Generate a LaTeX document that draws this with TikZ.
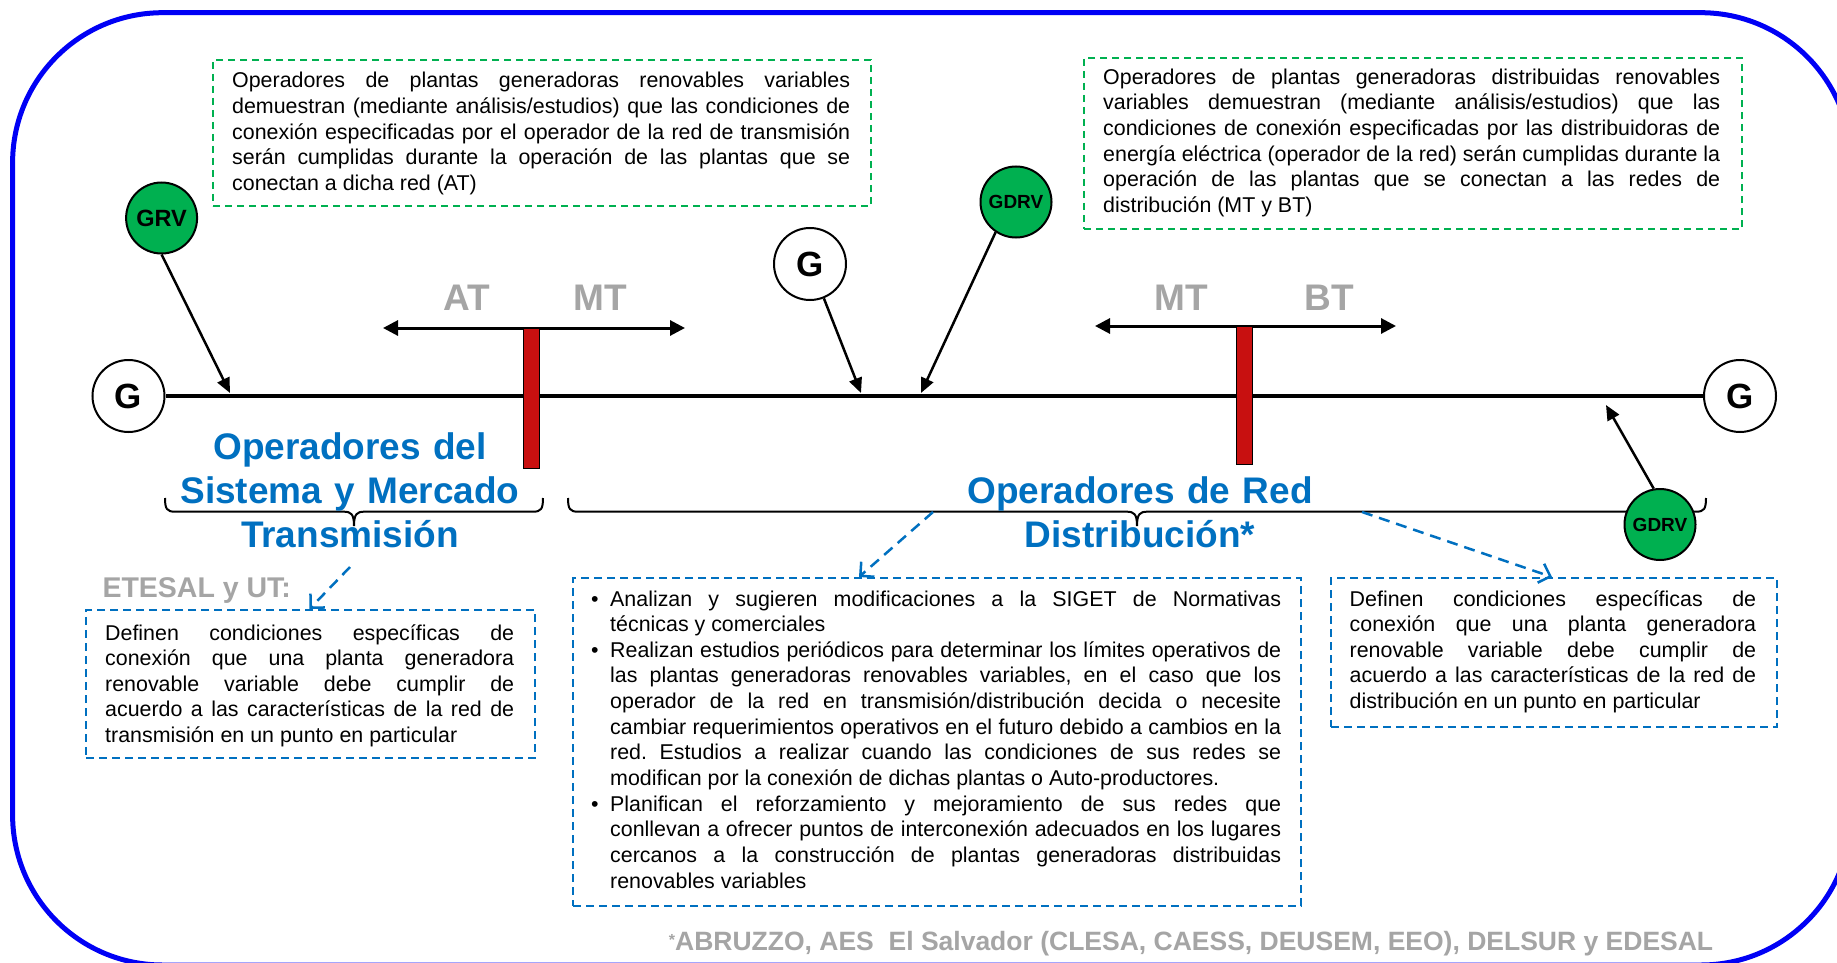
\documentclass[tikz,border=0pt]{standalone}
\usepackage{fontspec}
\setmainfont{Liberation Sans}
\usetikzlibrary{arrows.meta}
\definecolor{offblue}{RGB}{0,112,192}
\definecolor{offgreen}{RGB}{0,176,80}
\definecolor{offgray}{RGB}{165,165,165}
\definecolor{barred}{RGB}{200,16,16}
\definecolor{frameblue}{RGB}{0,0,245}
\newcommand\bodyfont{\fontsize{21.4}{25.66}\selectfont\frenchspacing}
\newlength\bind \setlength\bind{19pt}
\newcommand\para[2]{\vtop{\hsize=#1\relax #2}}
\newcommand\JL[1]{\hbox to\hsize{#1}}
\newcommand\LL[1]{\hbox{#1}}
\newcommand\BL[1]{\hbox to\hsize{\hbox to\bind{•\hss}\hbox to\dimexpr\hsize-\bind\relax{#1}}}
\newcommand\CL[1]{\hbox to\hsize{\hskip\bind\hbox to\dimexpr\hsize-\bind\relax{#1}}}
\newcommand\CE[1]{\hbox{\hskip\bind #1}}
\begin{document}
\begin{tikzpicture}[x=1pt,y=-1pt,
  circ/.style={circle,draw,line width=2pt,inner sep=0pt,minimum size=72pt},
  gnode/.style={circ,fill=white,font=\fontsize{35}{35}\selectfont\bfseries},
  grnode/.style={circ,fill=offgreen,minimum size=71pt},
  dboxg/.style={draw=offgreen,line width=2pt,dash pattern=on 7pt off 5pt,inner sep=0pt,anchor=north west},
  dboxb/.style={draw=offblue,line width=2pt,dash pattern=on 8pt off 5pt,inner sep=0pt,anchor=north west},
  txt/.style={inner sep=0pt,anchor=base west,font=\bodyfont},
  volt/.style={font=\fontsize{37}{37}\selectfont\bfseries,text=offgray,inner sep=0pt,anchor=base},
  ttl/.style={font=\fontsize{37}{44.2}\selectfont\bfseries,text=offblue,align=center,text width=440pt,inner sep=0pt,anchor=base},
  feed/.style={line width=2.5pt,-{Triangle[length=15pt,width=13pt]}},
  twoway/.style={line width=3pt,{Triangle[length=15pt,width=15pt]}-{Triangle[length=15pt,width=15pt]}},
  bus/.style={line width=4.5pt},
  redbar/.style={draw=black,line width=1.2pt,fill=barred,inner sep=0pt,minimum width=16pt,anchor=north},
  brc/.style={line width=2pt},
  hint/.style={draw=offblue,line width=2.5pt,dash pattern=on 11pt off 7pt,-{Straight Barb[length=10pt,width=20pt]}},
]
\useasboundingbox (0,0) rectangle (1837,963);
\fill[white] (0,0) rectangle (1837,963);
\begin{scope}
\clip (0,0) rectangle (1837,963);
\draw[frameblue,line width=5pt,rounded corners=150pt] (12.6,12.7) rectangle (1851,965);
\end{scope}

% dashed boxes
\node[dboxg,minimum width=658pt,minimum height=146pt] (tl) at (212,59) {};
\node[dboxg,minimum width=658pt,minimum height=171pt] (tr) at (1083,57) {};
\node[dboxb,minimum width=449pt,minimum height=148pt] (bl) at (85,609) {};
\node[dboxb,minimum width=728pt,minimum height=328pt] (bm) at (572,577) {};
\node[dboxb,minimum width=446pt,minimum height=149pt] (br) at (1330,577) {};

% box texts
\node[txt] (tlt) at (232,87.7) {\para{618pt}{%
\JL{Operadores de plantas generadoras renovables variables}
\JL{demuestran (mediante análisis/estudios) que las condiciones de}
\JL{conexión especificadas por el operador de la red de transmisión}
\JL{serán cumplidas durante la operación de las plantas que se}
\LL{conectan a dicha red (AT)}}};
\node[txt] (trt) at (1103,84.3) {\para{617pt}{%
\JL{Operadores de plantas generadoras distribuidas renovables}
\JL{variables demuestran (mediante análisis/estudios) que las}
\JL{condiciones de conexión especificadas por las distribuidoras de}
\JL{energía eléctrica (operador de la red) serán cumplidas durante la}
\JL{operación de las plantas que se conectan a las redes de}
\LL{distribución (MT y BT)}}};
\node[txt] (blt) at (105,640) {\para{409pt}{%
\JL{Definen condiciones específicas de}
\JL{conexión que una planta generadora}
\JL{renovable variable debe cumplir de}
\JL{acuerdo a las características de la red de}
\LL{transmisión en un punto en particular}}};
\node[txt] (brt) at (1349.5,606) {\para{406.5pt}{%
\JL{Definen condiciones específicas de}
\JL{conexión que una planta generadora}
\JL{renovable variable debe cumplir de}
\JL{acuerdo a las características de la red de}
\LL{distribución en un punto en particular}}};
\node[txt] (bmt) at (591,606) {\para{690pt}{%
\BL{Analizan y sugieren modificaciones a la SIGET de Normativas}
\CE{técnicas y comerciales}
\BL{Realizan estudios periódicos para determinar los límites operativos de}
\CL{las plantas generadoras renovables variables, en el caso que los}
\CL{operador de la red en transmisión/distribución decida o necesite}
\CL{cambiar requerimientos operativos en el futuro debido a cambios en la}
\CL{red. Estudios a realizar cuando las condiciones de sus redes se}
\CE{modifican por la conexión de dichas plantas o Auto-productores.}
\BL{Planifican el reforzamiento y mejoramiento de sus redes que}
\CL{conllevan a ofrecer puntos de interconexión adecuados en los lugares}
\CL{cercanos a la construcción de plantas generadoras distribuidas}
\CE{renovables variables}}};

% generators on the bus
\node[gnode] (gl) at (128.5,396) {G};
\node[gnode] (gr) at (1740,396) {G};
\draw[bus] (gl) -- (gr);

% voltage spans
\coordinate (a1) at (383,328);
\coordinate (a2) at (685,328);
\coordinate (b1) at (1095,326);
\coordinate (b2) at (1396,326);
\draw[twoway] (a1) -- (a2);
\draw[twoway] (b1) -- (b2);
\node[volt] (at) at (467,310) {AT};
\node[volt] (mt1) at (600,310) {MT};
\node[volt] (mt2) at (1181,310) {MT};
\node[volt] (bt) at (1329,310) {BT};
\node[redbar,minimum height=140pt] (rb1) at (531.7,328) {};
\node[redbar,minimum height=138pt] (rb2) at (1244.5,326) {};

% braces
\draw[brc] (165,498) .. controls (165,509) and (167,511.7) .. (175,511.7) -- (344,511.7)
  .. controls (351,511.7) and (354,514) .. (354,526)
  .. controls (354,514) and (357,511.7) .. (364,511.7) -- (533,511.7)
  .. controls (541,511.7) and (543,509) .. (543,498);
\draw[brc] (568,498) .. controls (568,509) and (570,511.7) .. (578,511.7) -- (1127,511.7)
  .. controls (1134,511.7) and (1137,514) .. (1137,526)
  .. controls (1137,514) and (1140,511.7) .. (1147,511.7) -- (1696,511.7)
  .. controls (1704,511.7) and (1706,509) .. (1706,498);

% titles
\node[ttl] (tt1) at (350,459.3) {Operadores del\\Sistema y Mercado\\Transmisión};
\node[ttl] (tt2) at (1140,503.5) {Operadores de Red\\Distribución*};
\node[inner sep=0pt,anchor=base west,text=offgray,font=\fontsize{28.5}{28.5}\selectfont\bfseries] (et) at (102.3,597.3) {ETESAL y UT:};

% green / white sources
\node[gnode] (gm) at (810,264) {G};
\node[grnode,font=\fontsize{23.5}{23.5}\selectfont\bfseries] (grv) at (161.6,218) {GRV};
\node[grnode,font=\fontsize{19}{19}\selectfont\bfseries] (gd1) at (1016,202) {GDRV};
\node[grnode,font=\fontsize{19}{19}\selectfont\bfseries] (gd2) at (1660,524.5) {GDRV};

\coordinate (t1) at (230,393);
\coordinate (t2) at (861,393);
\coordinate (t3) at (921,393);
\coordinate (t4) at (1606,405);
\draw[feed] (grv.south) -- (t1);
\draw[feed] (gm.-68) -- (t2);
\draw[feed] (gd1.-124) -- (t3);
\draw[feed] (gd2.100) -- (t4);

% blue hint arrows
\coordinate (h1) at (350,567);
\coordinate (h1e) at (309.5,609);
\coordinate (h2) at (933,512);
\coordinate (h2e) at (859,577);
\coordinate (h3) at (1362,512);
\coordinate (h3e) at (1552,577);
\draw[hint] (h1) -- (h1e);
\draw[hint] (h2) -- (h2e);
\draw[hint] (h3) -- (h3e);

% footer
\node[inner sep=0pt,anchor=base west,text=offgray,font=\fontsize{26.5}{26.5}\selectfont\bfseries] (foot) at (668.7,950.8)
 {\raisebox{5pt}{\fontsize{16}{16}\selectfont*}ABRUZZO, AES\ \ El Salvador (CLESA, CAESS, DEUSEM, EEO), DELSUR y EDESAL};
\end{tikzpicture}
\end{document}
